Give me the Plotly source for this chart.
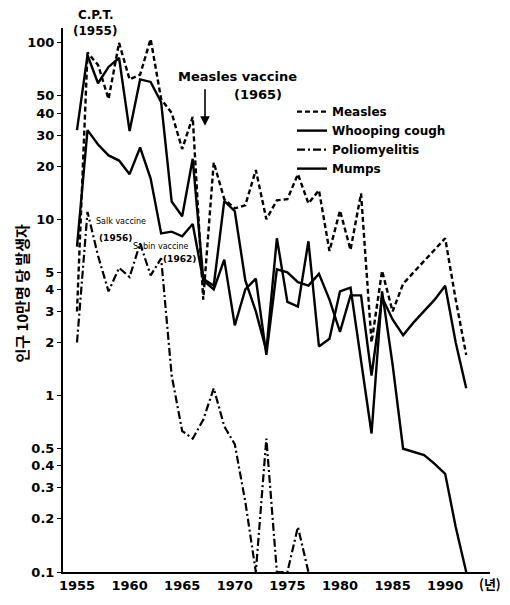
import plotly.graph_objects as go

years = list(range(1955, 1993))

measles = [3.0, 88, 75, 48, 100, 62, 66, 105, 48, 40, 25, 38, 3.5, 21, 13, 11.5, 12, 19,
           10, 12.8, 13, 18, 12.3, 14.6, 6.6, 11.2, 6.7, 14, 2.0, 5.1, 3.0, 4.3, 5.0, 5.8,
           6.8, 7.8, 3.5, 1.7]

whooping_cough = [32, 85, 59, 73, 82, 31.6, 62, 60, 46, 12.6, 10.4, 22, 4.6, 4.2, 12.7, 11.1,
                  4.5, 3.0, 1.8, 7.8, 3.4, 3.2, 7.5, 1.9, 2.1, 3.9, 4.1, 1.6, 0.61, 3.9, 1.5,
                  0.5, 0.48, 0.46, 0.41, 0.36, 0.18, 0.1]

polio_years = list(range(1955, 1978))
poliomyelitis = [2.0, 11, 6.2, 3.9, 5.3, 4.7, 7.3, 4.8, 6.0, 1.3, 0.63, 0.57, 0.73, 1.1, 0.67,
                 0.53, 0.25, 0.1, 0.57, 0.1, 0.1, 0.18, 0.1]

mumps = [7, 32, 26.5, 23, 21.5, 18, 25.5, 17, 8.3, 8.5, 8.0, 9.4, 4.5, 4.0, 5.9, 2.5, 4.0, 4.6,
         1.7, 5.2, 5.0, 4.4, 4.2, 4.9, 3.5, 2.3, 3.7, 3.7, 1.3, 3.6, 2.7, 2.2, 2.6, 3.0, 3.5,
         4.2, 2.0, 1.1]

x_tick_vals = [1955, 1960, 1965, 1970, 1975, 1980, 1985, 1990]
x_tick_text = ["1955", "1960", "1965", "1970", "1975", "1980", "1985", "1990"]
y_tick_vals = [0.1, 0.2, 0.3, 0.4, 0.5, 1, 2, 3, 4, 5, 10, 20, 30, 40, 50, 100]
y_tick_text = ["0.1", "0.2", "0.3", "0.4", "0.5", "1", "2", "3", "4", "5", "10", "20", "30",
               "40", "50", "100"]

FONT = "DejaVu Sans"
# the page body adds an 8px margin, so the figure is 8px smaller than the window
OFF = 8
W, H = 510 - OFF, 605 - OFF
L, R, T, B = 55, 20, 20, 26


def px(x):
    # x in window pixels -> paper coordinate
    return (x - OFF - L) / (W - L - R)


def py(y):
    # y in window pixels -> paper coordinate
    return (H - B - (y - OFF)) / (H - T - B)


fig = go.Figure()
fig.add_trace(go.Scatter(x=years, y=measles, mode="lines", name="Measles",
                         line=dict(color="black", width=2.4, dash="5px,3px")))
fig.add_trace(go.Scatter(x=years, y=whooping_cough, mode="lines", name="Whooping cough",
                         line=dict(color="black", width=2.4)))
fig.add_trace(go.Scatter(x=polio_years, y=poliomyelitis, mode="lines", name="Poliomyelitis",
                         line=dict(color="black", width=2.2, dash="8px,3px,2px,3px")))
fig.add_trace(go.Scatter(x=years, y=mumps, mode="lines", name="Mumps",
                         line=dict(color="black", width=2.4)))

bold = dict(family=FONT, size=13, color="black", weight="bold")
bold12 = dict(family=FONT, size=12, color="black", weight="bold")

annotations = [
    dict(x=px(95), y=py(15), text="C.P.T.", font=bold12),
    dict(x=px(95), y=py(31), text="(1955)", font=bold12),
    dict(x=px(237), y=py(77), text="Measles vaccine", font=bold),
    dict(x=px(258), y=py(95), text="(1965)", font=bold),
    dict(x=px(121), y=py(224), text="Salk vaccine", font=dict(family=FONT, size=8, color="black")),
    dict(x=px(115), y=py(241), text="(1956)", font=dict(family=FONT, size=9, color="black", weight="bold")),
    dict(x=px(161), y=py(249), text="Sabin vaccine", font=dict(family=FONT, size=8, color="black")),
    dict(x=px(179), y=py(262), text="(1962)", font=dict(family=FONT, size=9, color="black", weight="bold")),
    dict(x=px(490), y=py(591), text="(년)", font=dict(family="Noto Sans CJK KR", size=13, color="black", weight="bold")),
    dict(x=px(22), y=py(297), text="인구 10만명 당 발생자", textangle=-90,
         font=dict(family="Noto Sans CJK KR", size=15, color="black", weight="bold")),
]
for a in annotations:
    a.update(xref="paper", yref="paper", showarrow=False, xanchor="center", yanchor="middle")

annotations.append(dict(x=px(205), y=py(127), xref="paper", yref="paper", text="",
                        showarrow=True, ax=0, ay=-38, arrowhead=2, arrowsize=1.2,
                        arrowwidth=1.6, arrowcolor="black"))

fig.update_layout(
    width=W, height=H,
    margin=dict(l=L, r=R, t=T, b=B),
    paper_bgcolor="white", plot_bgcolor="white",
    showlegend=True,
    legend=dict(x=px(292), y=py(98), xanchor="left", yanchor="top",
                font=dict(family=FONT, size=12, color="black", weight="bold"),
                bgcolor="rgba(0,0,0,0)", tracegroupgap=0, itemwidth=30),
    annotations=annotations,
    xaxis=dict(range=[1953.67, 1994.26], tickvals=x_tick_vals, ticktext=x_tick_text,
               showline=True, linecolor="black", linewidth=2, ticks="", showgrid=False,
               zeroline=False, tickfont=dict(family=FONT, size=13, color="black", weight="bold")),
    yaxis=dict(type="log", range=[-1, 2.084], tickvals=y_tick_vals, ticktext=y_tick_text,
               showline=True, linecolor="black", linewidth=2, ticks="outside", ticklen=4,
               tickcolor="black", showgrid=False, zeroline=False,
               tickfont=dict(family=FONT, size=13, color="black", weight="bold")),
)

fig.write_html("out.html")
